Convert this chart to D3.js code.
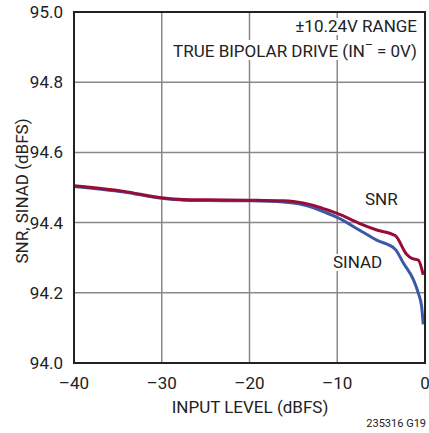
<!DOCTYPE html>
<html>
<head>
<meta charset="utf-8">
<script src="https://cdn.jsdelivr.net/npm/d3@7.9.0/dist/d3.min.js"></script>
<style>
  body { margin: 0; background: #fff; }
  svg text { font-family: Roboto, "Liberation Sans", sans-serif; fill: #222; }
</style>
</head>
<body>
<svg id="chart" width="429" height="433"></svg>
<script>
// input level (dBFS)
const snrX = [-40, -34.3, -30, -27.5, -24.8, -20, -16.2, -15, -13.9, -12.7, -11.6, -10, -7.5, -5.5, -3.4, -2.1, -1.5, -0.76, -0.2];
const snrY = [94.505, 94.489, 94.471, 94.466, 94.465, 94.464, 94.462, 94.460, 94.456, 94.449, 94.440, 94.426, 94.398, 94.379, 94.363, 94.310, 94.298, 94.293, 94.251];
const sinadX = [-40, -34.3, -30, -27.5, -24.8, -20, -16.2, -15, -13.9, -12.7, -11.6, -10, -7.5, -5.5, -3.4, -2.45, -1.3, -0.76, -0.38, -0.2];
const sinadY = [94.503, 94.487, 94.469, 94.464, 94.463, 94.462, 94.459, 94.456, 94.451, 94.442, 94.431, 94.415, 94.379, 94.350, 94.324, 94.284, 94.236, 94.199, 94.160, 94.110];
const xTicks = [-40, -30, -20, -10, 0];
const yTicks = [94.0, 94.2, 94.4, 94.6, 94.8, 95.0];

const margin = { left: 74, right: 4, top: 12, bottom: 70 };
const width = 429, height = 433;
const svg = d3.select('#chart');

const x = d3.scaleLinear().domain([-40, 0]).range([margin.left, width - margin.right]);
const y = d3.scaleLinear().domain([94, 95]).range([height - margin.bottom, margin.top]);

// grid
svg.append('g').selectAll('line').data(xTicks.slice(1, -1)).join('line')
  .attr('x1', d => x(d)).attr('x2', d => x(d))
  .attr('y1', y(95)).attr('y2', y(94))
  .attr('stroke', '#888').attr('stroke-width', 1.5);
svg.append('g').selectAll('line').data(yTicks.slice(1, -1)).join('line')
  .attr('x1', x(-40)).attr('x2', x(0))
  .attr('y1', d => y(d)).attr('y2', d => y(d))
  .attr('stroke', '#888').attr('stroke-width', 1.5);

function label(txt, tx, ty, anchor) {
  return svg.append('text').attr('x', tx).attr('y', ty)
    .attr('text-anchor', anchor).attr('font-size', 17).text(txt);
}

// notes with white backing
const notes = svg.append('g');
const n1 = label('±10.24V RANGE', 417, 32, 'end');
const n2 = svg.append('text').attr('x', 417).attr('y', 57)
  .attr('text-anchor', 'end').attr('font-size', 17);
n2.append('tspan').text('TRUE BIPOLAR DRIVE (IN');
n2.append('tspan').attr('dy', -8).attr('font-size', 12).text('–');
n2.append('tspan').attr('dy', 8).text(' = 0V)');
const l1 = label('SNR', 365, 205, 'start');
const l2 = label('SINAD', 333, 268, 'start');

[n1, n2, l1, l2].forEach(t => {
  const b = t.node().getBBox();
  notes.append('rect').attr('x', b.x - 2).attr('y', b.y + 2)
    .attr('width', b.width + 4).attr('height', b.height - 3).attr('fill', '#fff');
});
[n1, n2, l1, l2].forEach(t => t.raise());

// curves
const line = d3.line().x(d => x(d[0])).y(d => y(d[1])).curve(d3.curveMonotoneX);
svg.append('path').datum(d3.zip(sinadX, sinadY)).attr('d', line)
  .attr('fill', 'none').attr('stroke', '#3c58a8').attr('stroke-width', 3).attr('stroke-linejoin', 'round');
svg.append('path').datum(d3.zip(snrX, snrY)).attr('d', line)
  .attr('fill', 'none').attr('stroke', '#980c36').attr('stroke-width', 3).attr('stroke-linejoin', 'round');

// frame
svg.append('rect').attr('x', x(-40)).attr('y', y(95))
  .attr('width', x(0) - x(-40)).attr('height', y(94) - y(95))
  .attr('fill', 'none').attr('stroke', '#222').attr('stroke-width', 2);

// tick labels
svg.append('g').selectAll('text').data(yTicks).join('text')
  .attr('x', 63).attr('y', d => y(d) + 6)
  .attr('text-anchor', 'end').attr('font-size', 17)
  .text(d => d3.format('.1f')(d));
svg.append('g').selectAll('text').data(xTicks).join('text')
  .attr('x', d => x(d)).attr('y', 389)
  .attr('text-anchor', 'middle').attr('font-size', 17)
  .text(d => d === 0 ? '0' : '–' + Math.abs(d));

// axis titles
svg.append('text').attr('x', 250).attr('y', 413)
  .attr('text-anchor', 'middle').attr('font-size', 17).text('INPUT LEVEL (dBFS)');
svg.append('text').attr('transform', 'translate(28,191) rotate(-90)')
  .attr('text-anchor', 'middle').attr('font-size', 17).text('SNR, SINAD (dBFS)');
svg.append('text').attr('x', 426).attr('y', 427)
  .attr('text-anchor', 'end').attr('font-size', 11).text('235316 G19');
</script>
</body>
</html>
